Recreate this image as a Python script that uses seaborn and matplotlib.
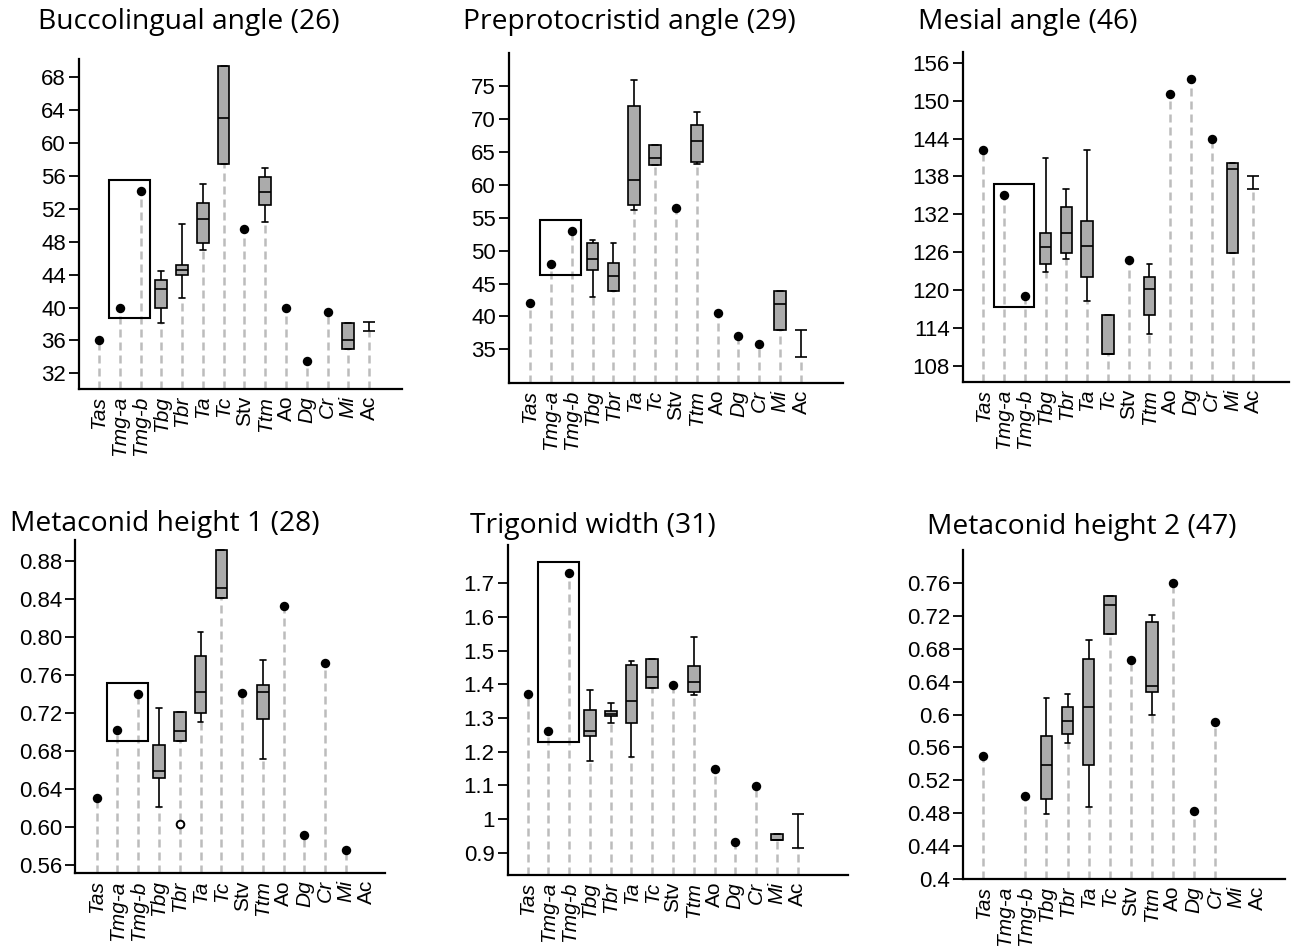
import pandas as pd
import matplotlib
matplotlib.use("Agg")
import matplotlib.pyplot as plt
from matplotlib.patches import Rectangle
from matplotlib.ticker import FuncFormatter
import seaborn as sns

# taxa on every x axis
TAXA = ["Tas", "Tmg-a", "Tmg-b", "Tbg", "Tbr", "Ta", "Tc", "Stv", "Ttm",
        "Ao", "Dg", "Cr", "Mi", "Ac"]
UPRIGHT = ["Stv", "Ao", "Ac"]

TITLES = ["Buccolingual angle (26)", "Preprotocristid angle (29)", "Mesial angle (46)",
          "Metaconid height 1 (28)", "Trigonid width (31)", "Metaconid height 2 (47)"]

# boxes are given as [whisker low, q1, median, q3, whisker high]

# Buccolingual angle
bl_points = {"Tas": 36.0, "Tmg-a": 40.0, "Tmg-b": 54.2, "Stv": 49.6,
             "Ao": 39.9, "Dg": 33.5, "Cr": 39.4}
bl_boxes = {"Tbg": [38.1, 40.0, 42.2, 43.4, 44.4],
            "Tbr": [41.1, 44.0, 44.6, 45.2, 50.1],
            "Ta": [47.0, 47.9, 50.8, 52.7, 55.0],
            "Tc": [57.4, 57.4, 63.0, 69.3, 69.3],
            "Ttm": [50.4, 52.4, 54.0, 55.9, 56.9],
            "Mi": [34.9, 34.9, 36.1, 38.1, 38.1]}
bl_range = {"Ac": [37.2, 38.2]}
bl_ticks = [32, 36, 40, 44, 48, 52, 56, 60, 64, 68]

# Preprotocristid angle
pp_points = {"Tas": 42.0, "Tmg-a": 48.0, "Tmg-b": 53.0, "Stv": 56.4,
             "Ao": 40.6, "Dg": 37.1, "Cr": 35.8}
pp_boxes = {"Tbg": [43.0, 47.0, 48.8, 51.1, 51.6],
            "Tbr": [43.8, 43.8, 46.1, 48.1, 51.1],
            "Ta": [56.1, 56.9, 60.7, 71.9, 75.9],
            "Tc": [63.0, 63.0, 64.0, 66.0, 66.0],
            "Ttm": [63.2, 63.5, 66.6, 69.0, 71.1],
            "Mi": [37.9, 37.9, 41.9, 43.9, 43.9]}
pp_range = {"Ac": [33.9, 38.0]}
pp_ticks = [35, 40, 45, 50, 55, 60, 65, 70, 75]

# Mesial angle
ms_points = {"Tas": 142.2, "Tmg-a": 135.1, "Tmg-b": 119.0, "Stv": 124.8,
             "Ao": 151.1, "Dg": 153.4, "Cr": 144.0}
ms_boxes = {"Tbg": [122.9, 124.2, 126.9, 129.0, 140.9],
            "Tbr": [124.9, 125.8, 129.0, 133.1, 136.0],
            "Ta": [118.2, 122.0, 127.0, 131.0, 142.2],
            "Tc": [109.9, 109.9, 109.9, 116.0, 116.0],
            "Ttm": [113.1, 116.1, 120.1, 122.0, 124.1],
            "Mi": [125.8, 125.8, 139.2, 140.1, 140.1]}
ms_range = {"Ac": [136.0, 138.0]}
ms_ticks = [108, 114, 120, 126, 132, 138, 144, 150, 156]

# Metaconid height 1
m1_points = {"Tas": 0.631, "Tmg-a": 0.7025, "Tmg-b": 0.740, "Stv": 0.741,
             "Ao": 0.833, "Dg": 0.592, "Cr": 0.7726, "Mi": 0.576}
m1_boxes = {"Tbg": [0.621, 0.6516, 0.6596, 0.6867, 0.726],
            "Tbr": [0.691, 0.691, 0.7017, 0.721, 0.721],
            "Ta": [0.7112, 0.720, 0.7428, 0.7807, 0.806],
            "Tc": [0.841, 0.841, 0.8516, 0.892, 0.892],
            "Ttm": [0.6716, 0.7137, 0.7428, 0.7498, 0.7758]}
m1_range = {}
m1_outliers = {"Tbr": 0.603}
m1_ticks = [0.56, 0.60, 0.64, 0.68, 0.72, 0.76, 0.80, 0.84, 0.88]

# Trigonid width
tw_points = {"Tas": 1.371, "Tmg-a": 1.262, "Tmg-b": 1.732, "Stv": 1.397,
             "Ao": 1.150, "Dg": 0.933, "Cr": 1.099}
tw_boxes = {"Tbg": [1.172, 1.246, 1.261, 1.324, 1.383],
            "Tbr": [1.286, 1.306, 1.313, 1.320, 1.346],
            "Ta": [1.183, 1.286, 1.350, 1.459, 1.469],
            "Tc": [1.388, 1.388, 1.421, 1.474, 1.474],
            "Ttm": [1.370, 1.376, 1.408, 1.454, 1.542],
            "Mi": [0.938, 0.938, 0.938, 0.957, 0.957]}
tw_range = {"Ac": [0.915, 1.014]}
tw_ticks = [0.9, 1.0, 1.1, 1.2, 1.3, 1.4, 1.5, 1.6, 1.7]

# Metaconid height 2
m2_points = {"Tas": 0.549, "Tmg-b": 0.501, "Stv": 0.666, "Ao": 0.760,
             "Dg": 0.483, "Cr": 0.591}
m2_boxes = {"Tbg": [0.479, 0.497, 0.539, 0.574, 0.620],
            "Tbr": [0.565, 0.576, 0.592, 0.609, 0.625],
            "Ta": [0.487, 0.539, 0.609, 0.667, 0.691],
            "Tc": [0.698, 0.698, 0.733, 0.744, 0.744],
            "Ttm": [0.600, 0.627, 0.635, 0.713, 0.721]}
m2_range = {}
m2_ticks = [0.40, 0.44, 0.48, 0.52, 0.56, 0.60, 0.64, 0.68, 0.72, 0.76]

sns.set_style("ticks")
plt.rcParams["font.family"] = ["Liberation Sans", "DejaVu Sans"]
plt.rcParams.update({"text.color": "black", "xtick.color": "black",
                     "ytick.color": "black", "axes.edgecolor": "black"})

W, H = 1291, 947
fig = plt.figure(figsize=(W / 100, H / 100), dpi=100)

BOX_GRAY = "#ababab"
DASH_GRAY = "#bcbcbc"


def rect_px(l, r, t, b):
    return [l / W, 1 - b / H, (r - l) / W, (b - t) / H]


def draw_panel(ax, points, boxes, ranges, ticks, fmt, ylim, xlim, outliers=None):
    box_df = pd.DataFrame([(k, v) for k, vals in boxes.items() for v in vals],
                          columns=["taxon", "value"])
    pt_df = pd.DataFrame(list(points.items()), columns=["taxon", "value"])

    # dashed guide lines from the axis up to the lowest value of each taxon
    lows = {k: v for k, v in points.items()}
    lows.update({k: min(v) for k, v in boxes.items()})
    lows.update({k: min(v) for k, v in ranges.items()})
    for k, v in lows.items():
        ax.vlines(TAXA.index(k), ylim[0], v, colors=DASH_GRAY, lw=1.8,
                  linestyles=(0, (3.2, 2.0)), zorder=0.5)

    sns.boxplot(data=box_df, x="taxon", y="value", order=TAXA, whis=(0, 100),
                color=BOX_GRAY, saturation=1, width=0.56, linewidth=1.2,
                linecolor="black", ax=ax)
    sns.stripplot(data=pt_df, x="taxon", y="value", order=TAXA, jitter=False,
                  color="black", size=6.8, ax=ax, zorder=4)
    if outliers:
        out_df = pd.DataFrame(list(outliers.items()), columns=["taxon", "value"])
        sns.stripplot(data=out_df, x="taxon", y="value", order=TAXA, jitter=False,
                      color="white", edgecolor="black", linewidth=1.4, size=5.5,
                      ax=ax, zorder=4)
    for k, (lo, hi) in ranges.items():
        ax.errorbar(TAXA.index(k), (lo + hi) / 2, yerr=(hi - lo) / 2, fmt="none",
                    ecolor="black", elinewidth=1.2, capsize=4.6, capthick=1.2,
                    zorder=3)

    # frame around the two Tmg specimens
    if "Tmg-a" in points and "Tmg-b" in points:
        a, b = points["Tmg-a"], points["Tmg-b"]
        pad = 0.033 * (ylim[1] - ylim[0])
        y0, y1 = min(a, b) - pad, max(a, b) + pad
        ax.add_patch(Rectangle((0.5, y0), 1.95, y1 - y0, fill=False,
                               edgecolor="black", lw=1.5, zorder=5))

    ax.set_xlim(*xlim)
    ax.set_ylim(*ylim)
    ax.set_yticks(ticks)
    ax.yaxis.set_major_formatter(FuncFormatter(fmt))
    ax.set_xticks(range(len(TAXA)))
    ax.set_xticklabels(TAXA, rotation=90)
    for lab in ax.get_xticklabels():
        lab.set_style("normal" if lab.get_text() in UPRIGHT else "italic")
    ax.set_xlabel("")
    ax.set_ylabel("")
    ax.tick_params(axis="x", length=0, pad=5, labelsize=15)
    ax.tick_params(axis="y", length=7, width=1.3, pad=2.5, labelsize=16)
    for s in ["left", "bottom"]:
        ax.spines[s].set_linewidth(1.6)
    sns.despine(ax=ax)


fmt_int = lambda v, p: f"{v:g}"
fmt_2 = lambda v, p: f"{v:.2f}"
fmt_g = lambda v, p: f"{round(v, 2):g}"

panels = [
    (rect_px(79, 401.7, 59, 389), bl_points, bl_boxes, bl_range, bl_ticks, fmt_int,
     (30.1, 70.2), (-0.96, 14.57), None),
    (rect_px(509, 842.7, 53, 383), pp_points, pp_boxes, pp_range, pp_ticks, fmt_int,
     (29.9, 80.0), (-1.01, 15.0), None),
    (rect_px(962.7, 1289, 52, 381.7), ms_points, ms_boxes, ms_range, ms_ticks, fmt_int,
     (105.5, 157.7), (-0.99, 14.72), None),
    (rect_px(75.3, 385, 540, 873.3), m1_points, m1_boxes, m1_range, m1_ticks, fmt_2,
     (0.5516, 0.9024), (-1.03, 13.88), m1_outliers),
    (rect_px(507.7, 848.3, 545, 875), tw_points, tw_boxes, tw_range, tw_ticks, fmt_g,
     (0.834, 1.814), (-0.96, 15.44), None),
    (rect_px(963.3, 1285, 550, 879), m2_points, m2_boxes, m2_range, m2_ticks, fmt_g,
     (0.40, 0.80), (-0.95, 14.33), None),
]

for pos, pts, bxs, rng, tks, fmt, ylim, xlim, outl in panels:
    ax = fig.add_axes(pos)
    draw_panel(ax, pts, bxs, rng, tks, fmt, ylim, xlim, outliers=outl)

# panel titles (left edge, baseline) in pixels
title_pos = [(38, 29), (463, 29), (918, 29), (10, 531), (470, 533), (927, 534)]
for t, (x, y) in zip(TITLES, title_pos):
    fig.text(x / W, 1 - y / H, t, ha="left", va="baseline", fontsize=20.3,
             family=["Open Sans", "DejaVu Sans"])

fig.savefig("out.png", dpi=100)
